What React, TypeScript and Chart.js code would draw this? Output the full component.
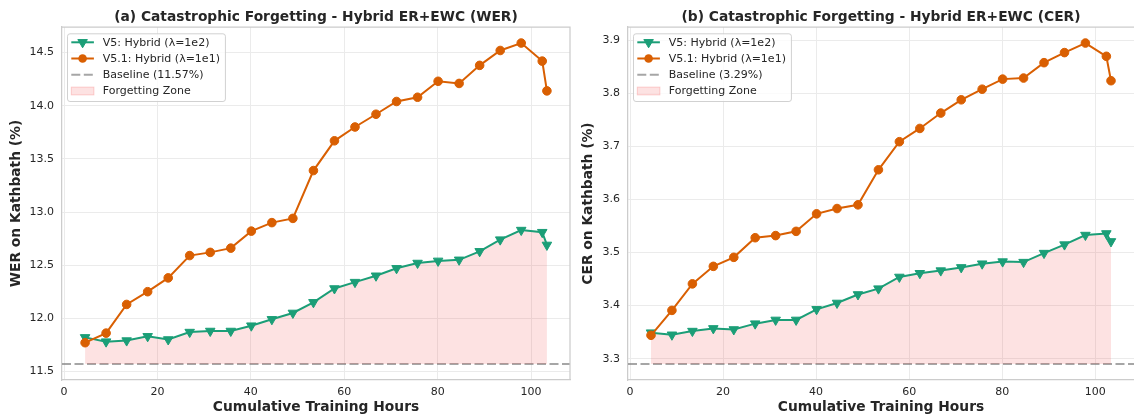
import React, { useEffect, useRef } from 'react';
import { Chart, registerables } from 'chart.js';

Chart.register(...registerables);

// ---------------- data ----------------
const HOURS = [4.5, 9.0, 13.4, 17.9, 22.3, 26.9, 31.3, 35.7, 40.1, 44.5, 49.0, 53.4, 57.9, 62.3, 66.8, 71.2, 75.7, 80.1, 84.6, 89.0, 93.4, 97.9, 102.4, 103.4];

const WER_V5 = [11.82, 11.78, 11.79, 11.83, 11.80, 11.87, 11.88, 11.88, 11.93, 11.99, 12.05, 12.15, 12.28, 12.34, 12.40, 12.47, 12.52, 12.54, 12.55, 12.63, 12.74, 12.83, 12.81, 12.69];
const WER_V51 = [11.77, 11.86, 12.13, 12.25, 12.38, 12.59, 12.62, 12.66, 12.82, 12.90, 12.94, 13.39, 13.67, 13.80, 13.92, 14.04, 14.08, 14.23, 14.21, 14.38, 14.52, 14.59, 14.42, 14.14];

const CER_V5 = [3.349, 3.345, 3.352, 3.357, 3.355, 3.366, 3.373, 3.373, 3.393, 3.405, 3.421, 3.432, 3.454, 3.461, 3.466, 3.472, 3.479, 3.483, 3.482, 3.499, 3.515, 3.533, 3.536, 3.521];
const CER_V51 = [3.344, 3.391, 3.441, 3.474, 3.491, 3.528, 3.532, 3.540, 3.573, 3.583, 3.590, 3.656, 3.709, 3.734, 3.763, 3.788, 3.808, 3.827, 3.829, 3.858, 3.877, 3.895, 3.870, 3.824];

const WER_BASELINE = 11.57;
const CER_BASELINE = 3.29;

const X_TICKS = [0, 20, 40, 60, 80, 100];
const WER_TICKS = [11.5, 12.0, 12.5, 13.0, 13.5, 14.0, 14.5];
const CER_TICKS = [3.3, 3.4, 3.5, 3.6, 3.7, 3.8, 3.9];

const SERIES_V5 = 'V5: Hybrid (λ=1e2)';
const SERIES_V51 = 'V5.1: Hybrid (λ=1e1)';
const ZONE_LABEL = 'Forgetting Zone';
const X_TITLE = 'Cumulative Training Hours';
const TITLES = ['(a) Catastrophic Forgetting - Hybrid ER+EWC (WER)', '(b) Catastrophic Forgetting - Hybrid ER+EWC (CER)'];
const Y_TITLES = ['WER on Kathbath (%)', 'CER on Kathbath (%)'];

// ---------------- styles ----------------
const GREEN = '#1b9e77';
const ORANGE = '#d95f02';
const FILL = 'rgba(240,60,60,0.15)';
const FILL_EDGE = 'rgba(240,60,60,0.22)';
const BASE_COLOR = 'rgba(128,128,128,0.7)';
const BASE_DASH = [9, 3.5];
const GRID = '#ebebeb';
const SPINE = '#cccccc';
const TEXT = '#262626';
const FONT = '"DejaVu Sans", sans-serif';

Chart.defaults.font.family = FONT;
Chart.defaults.color = TEXT;

const LAYOUT = [
  { left: 0, width: 580, yWidth: 62, padRight: 10, yTitlePad: 8 },
  { left: 580, width: 554, yWidth: 48, padRight: 0, yTitlePad: 0 },
];

type PanelDef = {
  title: string;
  yTitle: string;
  v5: number[];
  v51: number[];
  baseline: number;
  yTicks: number[];
};

const PANELS: PanelDef[] = [
  { title: TITLES[0], yTitle: Y_TITLES[0], v5: WER_V5, v51: WER_V51, baseline: WER_BASELINE, yTicks: WER_TICKS },
  { title: TITLES[1], yTitle: Y_TITLES[1], v5: CER_V5, v51: CER_V51, baseline: CER_BASELINE, yTicks: CER_TICKS },
];

function drawTriangleDown(ctx: CanvasRenderingContext2D, x: number, y: number, r: number) {
  ctx.beginPath();
  for (let k = 0; k < 3; k++) {
    const rad = Math.PI + (k * 2 * Math.PI) / 3;
    const px = x + Math.sin(rad) * r;
    const py = y - Math.cos(rad) * r;
    if (k === 0) ctx.moveTo(px, py);
    else ctx.lineTo(px, py);
  }
  ctx.closePath();
  ctx.fill();
  ctx.stroke();
}

function decorPlugin(p: PanelDef) {
  return {
    id: 'decor',
    afterDraw(chart: any) {
      const { ctx, chartArea: a } = chart;
      ctx.save();
      // top / right spines
      ctx.strokeStyle = SPINE;
      ctx.lineWidth = 1.25;
      ctx.beginPath();
      ctx.moveTo(a.left, a.top);
      ctx.lineTo(a.right, a.top);
      if (a.right < chart.width - 1) ctx.lineTo(a.right, a.bottom);
      ctx.stroke();

      // title
      ctx.font = `bold 13.8px ${FONT}`;
      ctx.fillStyle = TEXT;
      ctx.textAlign = 'center';
      ctx.textBaseline = 'middle';
      ctx.fillText(p.title, (a.left + a.right) / 2, 17.5);

      // legend
      const labels = [SERIES_V5, SERIES_V51, `Baseline (${p.baseline.toFixed(2)}%)`, ZONE_LABEL];
      ctx.font = `11px ${FONT}`;
      const tw = Math.max(...labels.map((t) => ctx.measureText(t).width));
      const L = a.left + 5;
      const T = 33.3;
      const W = 35.8 + tw + 5;
      const H = 67.7;
      ctx.fillStyle = 'rgba(255,255,255,0.8)';
      ctx.strokeStyle = 'rgba(204,204,204,0.9)';
      ctx.lineWidth = 1;
      ctx.beginPath();
      (ctx as any).roundRect(L + 0.5, T + 0.5, W, H, 2.5);
      ctx.fill();
      ctx.stroke();

      const x0 = L + 4.3;
      const x1 = L + 26.9;
      const xm = (x0 + x1) / 2;
      const rows = [T + 9, T + 25.2, T + 41.4, T + 57.7];

      // V5
      ctx.strokeStyle = GREEN;
      ctx.fillStyle = GREEN;
      ctx.lineWidth = 2;
      ctx.beginPath();
      ctx.moveTo(x0, rows[0]);
      ctx.lineTo(x1, rows[0]);
      ctx.stroke();
      ctx.lineWidth = 1;
      drawTriangleDown(ctx, xm, rows[0], 5.5);

      // V5.1
      ctx.strokeStyle = ORANGE;
      ctx.fillStyle = ORANGE;
      ctx.lineWidth = 2;
      ctx.beginPath();
      ctx.moveTo(x0, rows[1]);
      ctx.lineTo(x1, rows[1]);
      ctx.stroke();
      ctx.beginPath();
      ctx.arc(xm, rows[1], 4.3, 0, Math.PI * 2);
      ctx.fill();

      // baseline
      ctx.strokeStyle = BASE_COLOR;
      ctx.lineWidth = 2;
      ctx.setLineDash(BASE_DASH);
      ctx.beginPath();
      ctx.moveTo(x0, rows[2]);
      ctx.lineTo(x1, rows[2]);
      ctx.stroke();
      ctx.setLineDash([]);

      // zone patch
      ctx.fillStyle = FILL;
      ctx.strokeStyle = FILL_EDGE;
      ctx.lineWidth = 1;
      ctx.fillRect(x0, rows[3] - 3.9, x1 - x0, 7.8);
      ctx.strokeRect(x0, rows[3] - 3.9, x1 - x0, 7.8);

      // texts
      ctx.fillStyle = TEXT;
      ctx.textAlign = 'left';
      ctx.textBaseline = 'middle';
      labels.forEach((t, i) => ctx.fillText(t, L + 35.8, rows[i] + 0.5));
      ctx.restore();
    },
  };
}

function buildConfig(p: PanelDef, lay: typeof LAYOUT[number]): any {
  const xsMin = Math.min(...HOURS);
  const xsMax = Math.max(...HOURS);
  const xPad = (xsMax - xsMin) * 0.05;
  const xMin = xsMin - xPad;
  const xMax = xsMax + xPad;
  const allY = [...p.v5, ...p.v51, p.baseline];
  const yLo = Math.min(...allY);
  const yHi = Math.max(...allY);
  const yPad = (yHi - yLo) * 0.05;

  return {
    type: 'line',
    data: {
      datasets: [
        {
          label: SERIES_V51,
          data: HOURS.map((x, i) => ({ x, y: p.v51[i] })),
          borderColor: ORANGE,
          backgroundColor: ORANGE,
          borderWidth: 2,
          pointStyle: 'circle',
          pointRadius: 4.3,
          pointBorderWidth: 1,
          pointBorderColor: ORANGE,
          pointBackgroundColor: ORANGE,
          fill: false,
          order: 0,
        },
        {
          label: SERIES_V5,
          data: HOURS.map((x, i) => ({ x, y: p.v5[i] })),
          borderColor: GREEN,
          backgroundColor: FILL,
          borderWidth: 2,
          pointStyle: 'triangle',
          pointRotation: 180,
          pointRadius: 5.5,
          pointBorderWidth: 1,
          pointBorderColor: GREEN,
          pointBackgroundColor: GREEN,
          fill: { value: p.baseline },
          order: 1,
        },
        {
          label: 'Baseline',
          data: [
            { x: xMin, y: p.baseline },
            { x: xMax, y: p.baseline },
          ],
          borderColor: BASE_COLOR,
          borderWidth: 2,
          borderDash: BASE_DASH,
          pointRadius: 0,
          fill: false,
          order: 2,
        },
      ],
    },
    options: {
      animation: false,
      responsive: false,
      maintainAspectRatio: false,
      devicePixelRatio: 1,
      layout: { autoPadding: false, padding: { top: 27, right: lay.padRight, left: 0, bottom: 0 } },
      plugins: {
        legend: { display: false },
        tooltip: { enabled: false },
        title: { display: false },
      },
      scales: {
        x: {
          type: 'linear',
          min: xMin,
          max: xMax,
          afterBuildTicks: (s: any) => {
            s.ticks = X_TICKS.map((v) => ({ value: v }));
          },
          afterFit: (s: any) => {
            s.height = 38;
            s.paddingLeft = 0;
            s.paddingRight = 0;
          },
          grid: { color: GRID, drawTicks: false, lineWidth: 1 },
          border: { color: SPINE, width: 1.25 },
          ticks: {
            padding: 6,
            color: TEXT,
            font: { size: 11 },
            autoSkip: false,
            maxRotation: 0,
            callback: (v: number) => String(v),
          },
          title: {
            display: true,
            text: X_TITLE,
            color: TEXT,
            font: { size: 13.8, weight: 'bold' },
            padding: { top: 0, bottom: 2 },
          },
        },
        y: {
          type: 'linear',
          min: yLo - yPad,
          max: yHi + yPad,
          afterBuildTicks: (s: any) => {
            s.ticks = p.yTicks.map((v) => ({ value: v }));
          },
          afterFit: (s: any) => {
            s.width = lay.yWidth;
            s.paddingTop = 0;
            s.paddingBottom = 0;
          },
          grid: { color: GRID, drawTicks: false, lineWidth: 1 },
          border: { color: SPINE, width: 1.25 },
          ticks: {
            padding: 8,
            color: TEXT,
            font: { size: 11 },
            autoSkip: false,
            callback: (v: number) => v.toFixed(1),
          },
          title: {
            display: true,
            text: p.yTitle,
            color: TEXT,
            font: { size: 13.8, weight: 'bold' },
            padding: { top: lay.yTitlePad, bottom: 0 },
          },
        },
      },
    },
    plugins: [decorPlugin(p)],
  };
}

function PanelChart({ p, lay }: { p: PanelDef; lay: typeof LAYOUT[number] }) {
  const ref = useRef<HTMLCanvasElement>(null);
  useEffect(() => {
    const chart = new Chart(ref.current as HTMLCanvasElement, buildConfig(p, lay));
    return () => chart.destroy();
  }, []);
  return (
    <canvas
      ref={ref}
      width={lay.width}
      height={418}
      style={{ position: 'absolute', left: lay.left, top: 0, width: lay.width, height: 418 }}
    />
  );
}

export default function App() {
  return (
    <div style={{ position: 'absolute', left: 0, top: 0, width: 1134, height: 418, background: '#ffffff', overflow: 'hidden' }}>
      {PANELS.map((p, i) => (
        <PanelChart key={i} p={p} lay={LAYOUT[i]} />
      ))}
    </div>
  );
}
